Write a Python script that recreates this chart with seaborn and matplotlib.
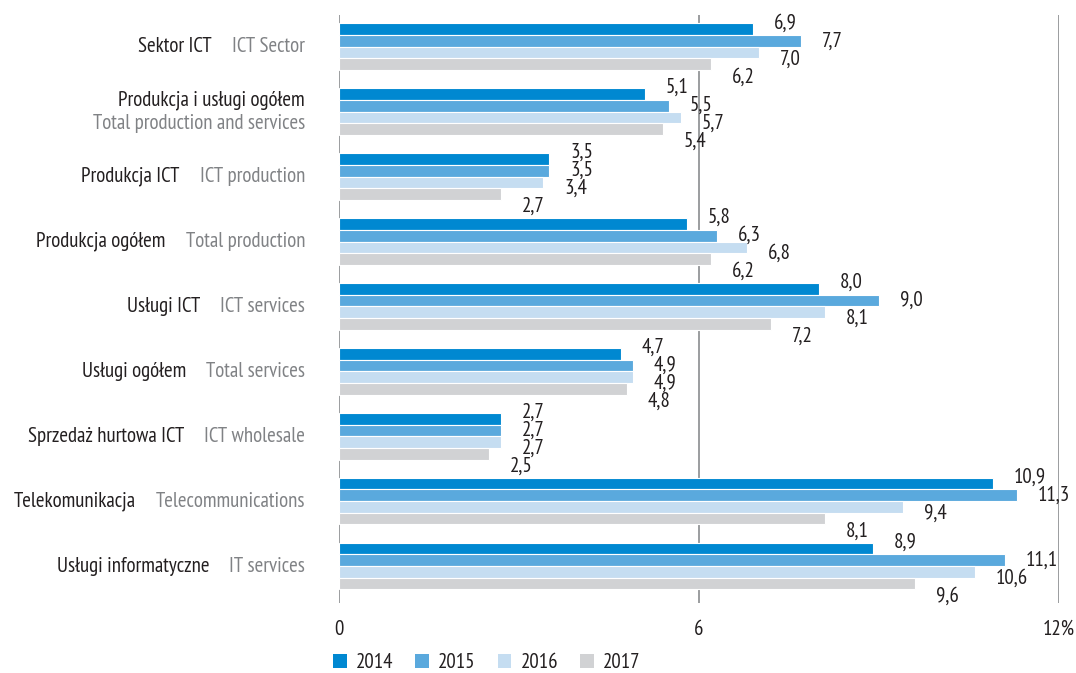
import matplotlib
matplotlib.use("Agg")
import matplotlib.pyplot as plt
import seaborn as sns
import pandas as pd
from matplotlib.patches import Patch
from matplotlib.transforms import blended_transform_factory, offset_copy

categories_pl = ["Sektor ICT", "Produkcja i usługi ogółem", "Produkcja ICT", "Produkcja ogółem",
                 "Usługi ICT", "Usługi ogółem", "Sprzedaż hurtowa ICT", "Telekomunikacja",
                 "Usługi informatyczne"]
categories_en = ["ICT Sector", "Total production and services", "ICT production", "Total production",
                 "ICT services", "Total services", "ICT wholesale", "Telecommunications", "IT services"]
years = ["2014", "2015", "2016", "2017"]
v2014 = [6.9, 5.1, 3.5, 5.8, 8.0, 4.7, 2.7, 10.9, 8.9]
v2015 = [7.7, 5.5, 3.5, 6.3, 9.0, 4.9, 2.7, 11.3, 11.1]
v2016 = [7.0, 5.7, 3.4, 6.8, 8.1, 4.9, 2.7, 9.4, 10.6]
v2017 = [6.2, 5.4, 2.7, 6.2, 7.2, 4.8, 2.5, 8.1, 9.6]
xticks = [0, 6, 12]
xticklabels = ["0", "6", "12%"]
colors = ["#0088d1", "#5aa9dd", "#c5ddf1", "#d1d2d4"]

sns.set_theme(style="white")
FONT = ["PT Sans Narrow", "Archivo Narrow", "DejaVu Sans"]
plt.rcParams["font.family"] = FONT
TXT = "#231f20"
GRAY = "#808285"
FS = 15

rows = []
series = [v2014, v2015, v2016, v2017]
for y, vals in zip(years, series):
    for c, v in zip(categories_pl, vals):
        rows.append({"cat": c, "year": y, "value": v})
df = pd.DataFrame(rows)

fig = plt.figure(figsize=(10.76, 6.73), dpi=100)
ax = fig.add_axes([339 / 1076, 1 - 603 / 673, (1059 - 339) / 1076, (603 - 15) / 673])

sns.barplot(data=df, y="cat", x="value", hue="year", order=categories_pl, hue_order=years,
            palette=colors, orient="h", width=0.72, edgecolor="white", linewidth=0.8,
            saturation=1, ax=ax, legend=False, zorder=3)

ax.set_xlim(0, 12)
ax.set_ylim(len(categories_pl) - 1 + 0.57, -0.49)
for s in ax.spines.values():
    s.set_visible(False)
for xv in xticks:
    ax.axvline(xv, color=GRAY, lw=1.1, zorder=1)
ax.set_xticks(xticks)
ax.set_xticklabels(xticklabels, fontsize=FS, color=TXT)
ax.tick_params(axis="x", length=0, pad=12)
ax.set_yticks([])
ax.set_xlabel("")
ax.set_ylabel("")

# value labels
for i, vals in enumerate(series):
    dy = -((i - 1.5) * 18 + 3)
    for j, v in enumerate(vals):
        ax.annotate(f"{v:.1f}".replace(".", ","), xy=(v, j), xytext=(21, dy),
                    textcoords="offset pixels", ha="left", va="center",
                    fontsize=FS, color=TXT, clip_on=False, annotation_clip=False)

# category labels
fig.canvas.draw()
renderer = fig.canvas.get_renderer()
trans = blended_transform_factory(fig.transFigure, ax.transData)
xr = 305 / 1076
for j, (pl, en) in enumerate(zip(categories_pl, categories_en)):
    if len(en) > 22:
        fig.text(xr, j, pl, transform=offset_copy(trans, fig=fig, x=0, y=12, units="dots"),
                 ha="right", va="center", fontsize=FS, color=TXT)
        fig.text(xr, j, en, transform=offset_copy(trans, fig=fig, x=0, y=-12, units="dots"),
                 ha="right", va="center", fontsize=FS, color=GRAY)
    else:
        t = fig.text(xr, j, en, transform=trans, ha="right", va="center", fontsize=FS, color=GRAY)
        w = t.get_window_extent(renderer).width
        fig.text(xr, j, pl, transform=offset_copy(trans, fig=fig, x=-(w + 20), y=0, units="dots"),
                 ha="right", va="center", fontsize=FS, color=TXT)

handles = [Patch(facecolor=c, edgecolor="none") for c in colors]
fig.legend(handles, years, loc="center left", bbox_to_anchor=(333 / 1076, 1 - 663 / 673),
           ncol=4, frameon=False, fontsize=FS, handlelength=0.65, handleheight=0.65,
           handletextpad=0.45, columnspacing=1.05, borderpad=0, borderaxespad=0,
           labelcolor=TXT)

fig.savefig("out.png", dpi=100)
